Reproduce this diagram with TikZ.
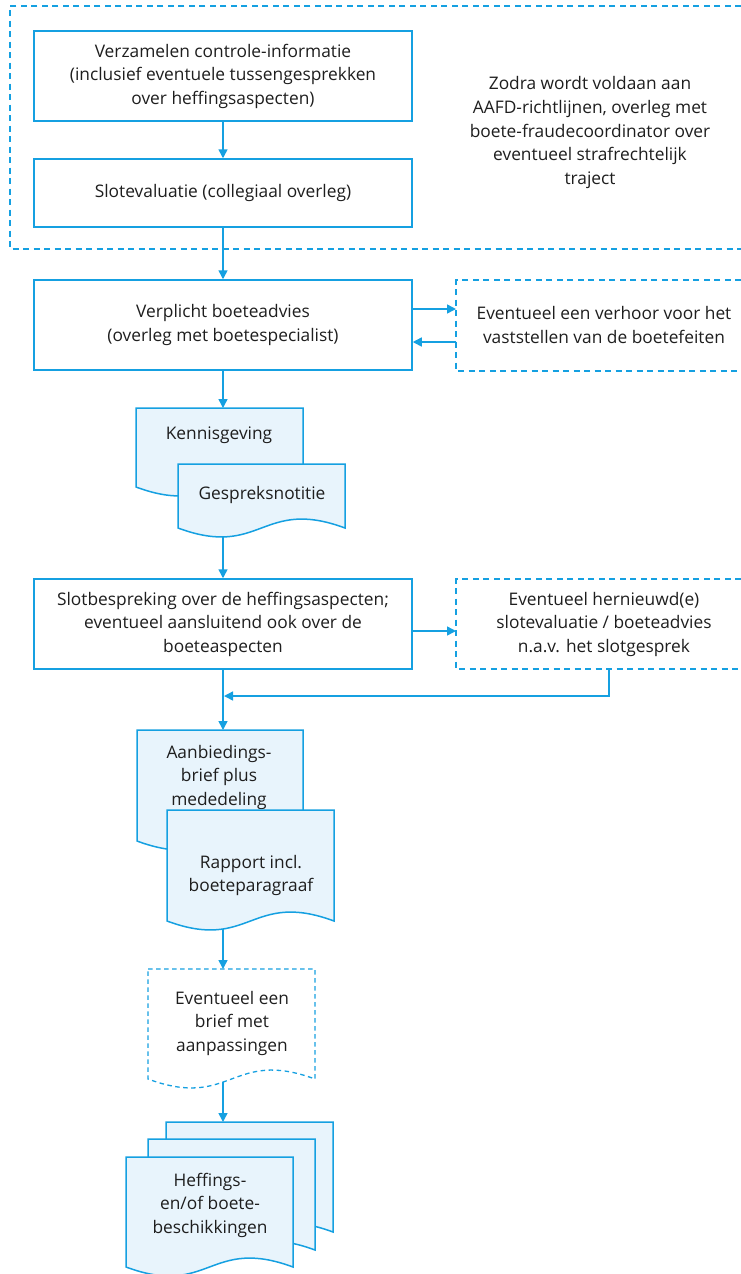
\documentclass[tikz,border=0pt]{standalone}
\usepackage{fontspec}
\setmainfont{Open Sans}
\usetikzlibrary{arrows.meta}
\definecolor{lnblue}{RGB}{21,160,225}
\definecolor{docfill}{RGB}{232,244,252}
\definecolor{txt}{RGB}{30,30,30}
\newcommand{\docpath}[4]{(#1,#2) -- (#3,#2) -- (#3,#4) .. controls ({(#1+#3)/2},{#4-31}) and ({(#1+#3)/2},{#4+31}) .. (#1,#4) -- cycle}
\begin{document}
\begin{tikzpicture}[x=1bp,y=-1bp,
  every node/.style={text=txt, font=\fontsize{17.4}{23.6}\selectfont, align=center, inner sep=0pt},
  box/.style={draw=lnblue, line width=1.5bp, minimum width=378bp},
  flow/.style={draw=lnblue, line width=1.5bp, -{Triangle[length=9bp,width=9bp]}},
  plainline/.style={draw=lnblue, line width=1.5bp},
  dashline/.style={draw=lnblue, line width=1.5bp, dash pattern=on 6bp off 4.5bp},
  smalldash/.style={draw=lnblue, line width=1.3bp, dash pattern=on 4.5bp off 3.5bp},
  docfilled/.style={draw=lnblue, fill=docfill, line width=1.5bp}]
\useasboundingbox (0,0) rectangle (741,1274);

% outer dashed region
\draw[dashline] (741,6) -- (10,6) -- (10,249) -- (741,249);

% boxes
\node[box, minimum height=90bp] (b1) at (223,76) {Verzamelen controle-informatie\\(inclusief eventuele tussengesprekken\\over heffingsaspecten)};
\node[box, minimum height=68bp] (b2) at (223,193) {Slotevaluatie (collegiaal overleg)};
\node (zodra) at (590,132.5) {Zodra wordt voldaan aan\\AAFD-richtlijnen, overleg met\\boete-fraudecoordinator over\\eventueel strafrechtelijk\\traject};

\node[box, minimum height=90bp] (b3) at (223,325) {Verplicht boeteadvies\\(overleg met boetespecialist)};
\draw[dashline] (741,280) -- (456,280) -- (456,371) -- (741,371);
\node (r1) at (604,325) {Eventueel een verhoor voor het\\vaststellen van de boetefeiten};
\coordinate (r1a) at (456,309);
\coordinate (r1b) at (456,342);

\node[box, minimum height=90bp] (b4) at (223,624) {Slotbespreking over de heffingsaspecten;\\eventueel aansluitend ook over de\\boeteaspecten};
\draw[dashline] (741,579) -- (456,579) -- (456,669) -- (741,669);
\node (r2) at (604,624) {Eventueel hernieuwd(e)\\slotevaluatie / boeteadvies\\n.a.v. het slotgesprek};
\coordinate (r2a) at (456,631);
\coordinate (r2b) at (609,669);
\coordinate (join) at (224,696);

% documents
\draw[docfilled] \docpath{136}{408}{303}{487};
\node (kennis) at (219,435) {Kennisgeving};
\draw[docfilled] \docpath{178}{464}{345}{528};
\node (gesprek) at (262,495) {Gespreksnotitie};

\draw[docfilled] \docpath{137}{730}{303}{841};
\node (aanb) at (219,777) {Aanbiedings-\\brief plus\\mededeling};
\draw[docfilled] \docpath{167}{810}{334}{921};
\node (rapport) at (251,875.5) {Rapport incl.\\boeteparagraaf};

\draw[smalldash] \docpath{148}{969}{315}{1079};
\node (brief) at (232,1023) {Eventueel een\\brief met\\aanpassingen};

\draw[docfilled] \docpath{166}{1122}{333}{1232};
\draw[docfilled] \docpath{148}{1139}{315}{1250};
\draw[docfilled] \docpath{126}{1157}{293}{1267};
\node (besch) at (210,1205) {Heffings-\\en/of boete-\\beschikkingen};

\coordinate (d1top) at (223,408);
\coordinate (d2bot) at (223,537);
\coordinate (d3top) at (223,730);
\coordinate (d4bot) at (223,929);
\coordinate (d5top) at (223,969);
\coordinate (d5bot) at (223,1082);
\coordinate (d6top) at (223,1122);

% connectors
\draw[flow] (b1.south) -- (b2.north);
\draw[flow] (b2.south) -- (b3.north);
\draw[flow] (b3.east |- r1a) -- (r1a);
\draw[flow] (r1b) -- (b3.east |- r1b);
\draw[flow] (b3.south) -- (d1top);
\draw[flow] (d2bot) -- (b4.north);
\draw[flow] (b4.east |- r2a) -- (r2a);
\draw[flow] (b4.south) -- (d3top);
\draw[flow] (r2b) |- (join);
\draw[flow] (d4bot) -- (d5top);
\draw[flow] (d5bot) -- (d6top);
\end{tikzpicture}
\end{document}
